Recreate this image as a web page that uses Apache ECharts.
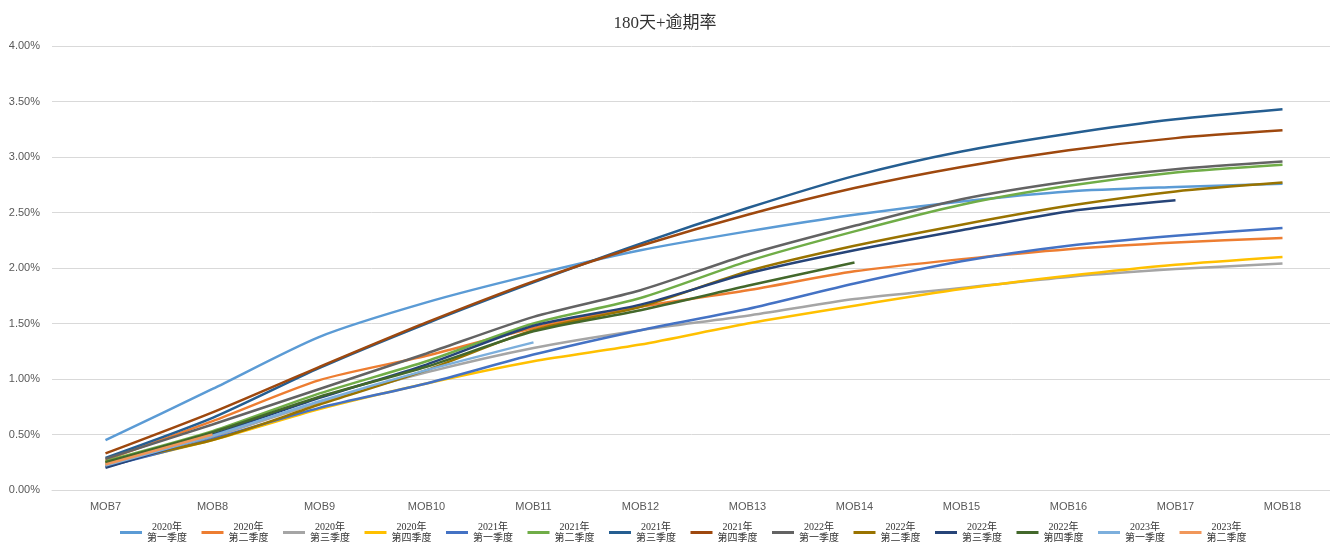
<!DOCTYPE html>
<html>
<head>
<meta charset="utf-8">
<script src="https://cdn.jsdelivr.net/npm/echarts@6/dist/echarts.min.js"></script>
<style>html,body{margin:0;padding:0;background:#fff;}#c{width:1330px;height:543px;}</style>
</head>
<body>
<div id="c"></div>
<script>
var categories = ['MOB7','MOB8','MOB9','MOB10','MOB11','MOB12','MOB13','MOB14','MOB15','MOB16','MOB17','MOB18'];
var seriesNames = ['2020年\n第一季度','2020年\n第二季度','2020年\n第三季度','2020年\n第四季度','2021年\n第一季度','2021年\n第二季度','2021年\n第三季度','2021年\n第四季度','2022年\n第一季度','2022年\n第二季度','2022年\n第三季度','2022年\n第四季度','2023年\n第一季度','2023年\n第二季度'];
var colors = ['#5B9BD5','#ED7D31','#A5A5A5','#FFC000','#4472C4','#70AD47','#255E91','#9E480E','#636363','#997300','#264478','#43682B','#7CAFDD','#F1975A'];
// values in percent
var y2020q1 = [0.45,0.91,1.38,1.69,1.94,2.16,2.33,2.48,2.60,2.69,2.73,2.76];
var y2020q2 = [0.27,0.62,0.99,1.21,1.46,1.65,1.80,1.97,2.08,2.17,2.23,2.27];
var y2020q3 = [0.24,0.48,0.79,1.06,1.28,1.44,1.57,1.72,1.82,1.92,1.99,2.04];
var y2020q4 = [0.22,0.45,0.73,0.96,1.16,1.31,1.50,1.66,1.81,1.93,2.03,2.10];
var y2021q1 = [0.21,0.46,0.74,0.96,1.22,1.44,1.63,1.86,2.06,2.20,2.29,2.36];
var y2021q2 = [0.26,0.53,0.87,1.16,1.50,1.73,2.06,2.33,2.57,2.74,2.86,2.93];
var y2021q3 = [0.29,0.65,1.10,1.50,1.87,2.22,2.54,2.83,3.05,3.21,3.34,3.43];
var y2021q4 = [0.33,0.70,1.11,1.51,1.88,2.20,2.48,2.72,2.91,3.06,3.17,3.24];
var y2022q1 = [0.28,0.59,0.91,1.23,1.56,1.80,2.12,2.38,2.62,2.78,2.89,2.96];
var y2022q2 = [0.25,0.45,0.77,1.08,1.44,1.65,1.97,2.20,2.39,2.56,2.69,2.77];
var y2022q3 = [0.20,0.50,0.83,1.13,1.48,1.67,1.95,2.16,2.34,2.51,2.61];
var y2022q4 = [0.25,0.52,0.84,1.11,1.43,1.62,1.84,2.05];
var y2023q1 = [0.22,0.49,0.80,1.08,1.33];
var y2023q2 = [0.23,0.50];
var allData = [y2020q1,y2020q2,y2020q3,y2020q4,y2021q1,y2021q2,y2021q3,y2021q4,y2022q1,y2022q2,y2022q3,y2022q4,y2023q1,y2023q2];
var yTicks = {min:0, max:4, interval:0.5};

var chart = echarts.init(document.getElementById('c'));
var series = allData.map(function(d,i){
  return {name: seriesNames[i], type:'line', data:d, smooth:0.25, showSymbol:false, symbol:'none',
    lineStyle:{width:2.5, color:colors[i]}, itemStyle:{color:colors[i]}};
});
chart.setOption({
  animation:false,
  color: colors,
  title:{text:'180天+逾期率', left:'center', top:10, textStyle:{fontFamily:'Liberation Serif, Noto Sans CJK SC', fontSize:17, fontWeight:'normal', color:'#333'}},
  grid:{left:52, top:46, width:1284, bottom:53, outerBoundsMode:'none', containLabel:false},
  legend:{top:517, left:115, icon:'rect', itemWidth:22, itemHeight:3, itemGap:14.5,
    formatter:function(n){var p=n.split('\n');return '{c|'+p[0]+'}\n{c|'+p[1]+'}';},
    textStyle:{fontSize:10, color:'#333', fontFamily:'Liberation Serif, Noto Sans CJK SC',
      rich:{c:{align:'center', fontSize:10, lineHeight:11, fontFamily:'Liberation Serif, Noto Sans CJK SC', color:'#333'}}}},
  xAxis:{type:'category', data:categories, boundaryGap:true,
    axisLine:{show:true, lineStyle:{color:'#D9D9D9'}}, axisTick:{show:false},
    axisLabel:{color:'#595959', fontSize:11, margin:11, fontFamily:'Liberation Sans'}},
  yAxis:{type:'value', min:yTicks.min, max:yTicks.max, interval:yTicks.interval,
    axisLine:{show:false}, axisTick:{show:false},
    splitLine:{lineStyle:{color:'#D9D9D9', width:1}},
    axisLabel:{color:'#595959', fontSize:11, margin:12, fontFamily:'Liberation Sans', formatter:function(v){return v.toFixed(2)+'%';}}},
  series: series
});
</script>
</body>
</html>
